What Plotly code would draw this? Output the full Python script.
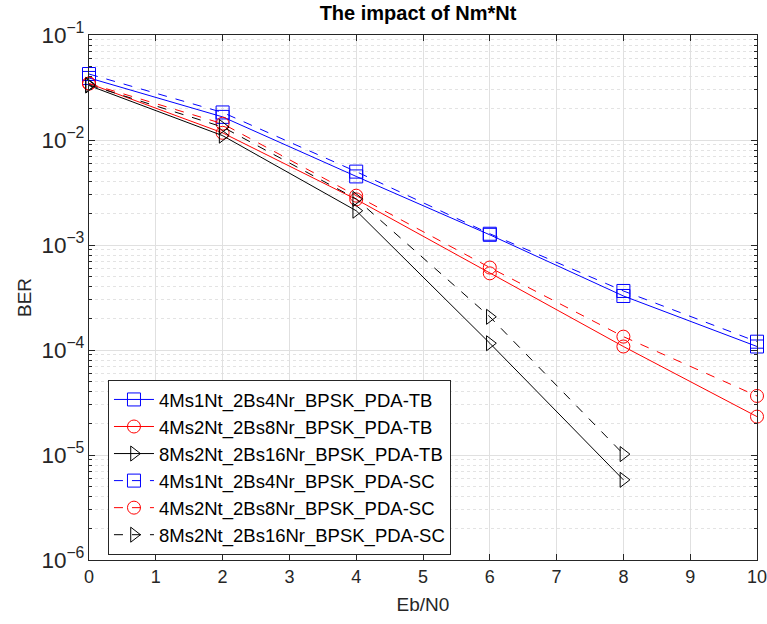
import plotly.graph_objects as go

x = [0, 2, 4, 6, 8, 10]
x8 = [0, 2, 4, 6, 8]

names = ["4Ms1Nt_2Bs4Nr_BPSK_PDA-TB", "4Ms2Nt_2Bs8Nr_BPSK_PDA-TB", "8Ms2Nt_2Bs16Nr_BPSK_PDA-TB",
         "4Ms1Nt_2Bs4Nr_BPSK_PDA-SC", "4Ms2Nt_2Bs8Nr_BPSK_PDA-SC", "8Ms2Nt_2Bs16Nr_BPSK_PDA-SC"]

tb_4ms1nt = [0.039, 0.0166, 4.5e-3, 1.25e-3, 3.27e-4, 1.08e-4]
tb_4ms2nt = [0.0345, 0.0117, 2.72e-3, 5.37e-4, 1.08e-4, 2.32e-5]
tb_8ms2nt = [0.033, 0.011, 2.12e-3, 1.16e-4, 5.8e-6]
sc_4ms1nt = [0.0425, 0.0183, 5.0e-3, 1.28e-3, 3.65e-4, 1.2e-4]
sc_4ms2nt = [0.0345, 0.0143, 2.95e-3, 6.1e-4, 1.34e-4, 3.65e-5]
sc_8ms2nt = [0.0335, 0.0133, 2.75e-3, 2.07e-4, 1.02e-5]

series = [
    (x, tb_4ms1nt, "#0000ff", "solid", "square-open"),
    (x, tb_4ms2nt, "#ff0000", "solid", "circle-open"),
    (x8, tb_8ms2nt, "#000000", "solid", "triangle-right-open"),
    (x, sc_4ms1nt, "#0000ff", "dash", "square-open"),
    (x, sc_4ms2nt, "#ff0000", "dash", "circle-open"),
    (x8, sc_8ms2nt, "#000000", "dash", "triangle-right-open"),
]

fig = go.Figure()
for (xs, ys, c, d, sym), nm in zip(series, names):
    fig.add_trace(go.Scatter(
        x=xs, y=ys, name=nm, mode="lines+markers", cliponaxis=False,
        line=dict(color=c, width=1, dash=d),
        marker=dict(symbol=sym, size=13, color=c, line=dict(color=c, width=1)),
    ))

font = "Liberation Sans, Arial, Helvetica, sans-serif"
fig.update_layout(
    width=767, height=624,
    margin=dict(l=89, r=10, t=35, b=64),
    paper_bgcolor="white", plot_bgcolor="white",
    font=dict(family=font, size=18, color="#262626"),
    title=dict(text="<b>The impact of Nm*Nt</b>", x=(418 / 767), xanchor="center",
               y=1 - 13 / 624, yanchor="middle", font=dict(size=20, color="black")),
    showlegend=True,
    legend=dict(x=0.0284, y=0.343, xanchor="left", yanchor="top",
                bgcolor="white", bordercolor="#262626", borderwidth=1,
                font=dict(size=18.5, color="black"), tracegroupgap=0,
                itemwidth=40),
)
fig.update_xaxes(
    range=[0, 10], dtick=1, tick0=0, automargin=False,
    showline=True, linecolor="#262626", linewidth=1, mirror="allticks",
    ticks="inside", ticklen=6, tickcolor="#262626",
    ticklabeloverflow="allow", tickfont=dict(size=18),
    showgrid=True, gridcolor="#e0e0e0", gridwidth=1, zeroline=False,
    title=dict(text="Eb/N0", font=dict(size=19), standoff=12),
)
fig.update_yaxes(
    type="log", range=[-6, -1], dtick=1, automargin=False,
    exponentformat="power", tickfont=dict(size=18),
    showline=True, linecolor="#262626", linewidth=1, mirror="allticks",
    ticks="inside", ticklen=6, tickcolor="#262626",
    showgrid=True, gridcolor="#e0e0e0", gridwidth=1, zeroline=False,
    minor=dict(ticks="inside", ticklen=3, tickcolor="#262626", showgrid=True,
               gridcolor="#e3e3e3", griddash="dot", gridwidth=1),
    title=dict(text="BER", font=dict(size=19), standoff=4),
)

fig.write_html("out.html", config={"displayModeBar": False},
               post_script="document.body.style.margin='0';document.body.style.overflow='hidden';")
